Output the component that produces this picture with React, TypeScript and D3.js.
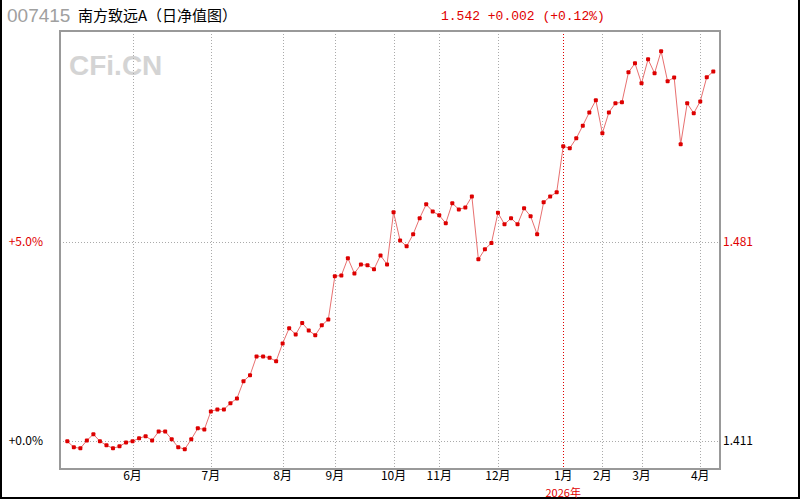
import * as d3 from "d3";
import { useEffect, useRef } from "react";

// 日净值 (NAV), one per plotted point
const navValues: number[] = [
    1.4109, 1.4088, 1.4084, 1.4112, 1.4134, 1.4109, 1.4095, 1.4084, 1.4091, 1.4105,
    1.4109, 1.4120, 1.4127, 1.4112, 1.4144, 1.4144, 1.4116, 1.4088, 1.4081, 1.4116,
    1.4155, 1.4151, 1.4215, 1.4222, 1.4222, 1.4244, 1.4261, 1.4322, 1.4343, 1.4410,
    1.4410, 1.4405, 1.4393, 1.4456, 1.4510, 1.4488, 1.4528, 1.4502, 1.4485, 1.4520,
    1.4541, 1.4694, 1.4697, 1.4758, 1.4704, 1.4736, 1.4733, 1.4719, 1.4768, 1.4736,
    1.4921, 1.4821, 1.4800, 1.4843, 1.4900, 1.4949, 1.4924, 1.4910, 1.4882, 1.4953,
    1.4931, 1.4938, 1.4977, 1.4754, 1.4790, 1.4812, 1.4919, 1.4878, 1.4900, 1.4878,
    1.4935, 1.4907, 1.4843, 1.4956, 1.4977, 1.4992, 1.5155, 1.5148, 1.5183, 1.5228,
    1.5275, 1.5318, 1.5201, 1.5275, 1.5307, 1.5311, 1.5417, 1.5449, 1.5378, 1.5463,
    1.5414, 1.5492, 1.5385, 1.5399, 1.5162, 1.5307, 1.5272, 1.5314, 1.5400, 1.5420,
];

// 月份刻度: label + index of first point in that month
const monthLabels = ["6月", "7月", "8月", "9月", "10月", "11月", "12月", "1月", "2月", "3月", "4月"];
const monthIndex = [10, 22, 33, 41, 50, 57, 66, 76, 82, 88, 97];

const baseNav = 1.411;
const pctTicks = [0, 5];
const pctTickLabels = ["+0.0%", "+5.0%"];
const navTickLabels = ["1.411", "1.481"];

const fundCode = "007415";
const fundName = "南方致远A（日净值图）";
const quoteText = "1.542 +0.002 (+0.12%)";
const yearLabel = "2026年";

const W = 800;
const H = 500;

export default function App() {
    const svgRef = useRef<SVGSVGElement | null>(null);

    useEffect(() => {
        document.body.style.margin = "0";

        const left = 60;
        const right = 720;
        const top = 31;
        const bottom = 469;
        const cjk = "SimSun, 'Noto Sans CJK SC', sans-serif";

        const svg = d3.select(svgRef.current);
        svg.selectAll("*").remove();

        svg.append("rect").attr("width", W).attr("height", H).attr("fill", "#fff");

        // outer frame (left, right, bottom)
        svg.append("path")
            .attr("d", `M1,0 V${H - 2} H${W - 1} V0`)
            .attr("fill", "none")
            .attr("stroke", "#000")
            .attr("stroke-width", 2);

        // scales
        const x = d3.scaleLinear().domain([0, navValues.length - 1]).range([67.3, 713.3]);
        const y = d3.scaleLinear().domain([0, 5]).range([441, 242]);
        const pct = (v: number) => (v / baseNav - 1) * 100;

        // watermark
        svg.append("text")
            .attr("x", 69)
            .attr("y", 75)
            .attr("font-family", "'Liberation Sans', Arial, sans-serif")
            .attr("font-weight", "bold")
            .attr("font-size", 28)
            .attr("fill", "#d4d4d4")
            .text("CFi.CN");

        // vertical month grid
        const grid = svg.append("g");
        monthIndex.forEach((idx, i) => {
            const gx = Math.round(x(idx)) + 0.5;
            grid.append("line")
                .attr("x1", gx)
                .attr("x2", gx)
                .attr("y1", top)
                .attr("y2", bottom)
                .attr("stroke", monthLabels[i] === "1月" ? "#e00000" : "#aaa")
                .attr("stroke-dasharray", "1,2");
            svg.append("text")
                .attr("x", x(idx))
                .attr("y", 480)
                .attr("text-anchor", "middle")
                .attr("font-family", cjk)
                .attr("font-size", 12)
                .attr("fill", "#000")
                .text(monthLabels[i]);
        });

        svg.append("text")
            .attr("x", x(monthIndex[7]))
            .attr("y", 496.5)
            .attr("text-anchor", "middle")
            .attr("font-family", cjk)
            .attr("font-size", 11)
            .attr("fill", "#e00000")
            .text(yearLabel);

        // horizontal grid + labels
        pctTicks.forEach((t, i) => {
            const gy = Math.round(y(t)) + 0.5;
            grid.append("line")
                .attr("x1", left)
                .attr("x2", right)
                .attr("y1", gy)
                .attr("y2", gy)
                .attr("stroke", "#aaa")
                .attr("stroke-dasharray", "1,2");
            const col = t === 0 ? "#000" : "#e00000";
            svg.append("text")
                .attr("x", 43)
                .attr("y", y(t) + 4)
                .attr("text-anchor", "end")
                .attr("font-family", cjk)
                .attr("font-size", 12)
                .attr("fill", col)
                .text(pctTickLabels[i]);
            svg.append("text")
                .attr("x", 723)
                .attr("y", y(t) + 4)
                .attr("font-family", cjk)
                .attr("font-size", 12)
                .attr("fill", col)
                .text(navTickLabels[i]);
        });

        // plot frame
        svg.append("rect")
            .attr("x", left)
            .attr("y", top)
            .attr("width", right - left)
            .attr("height", bottom - top)
            .attr("fill", "none")
            .attr("stroke", "#999")
            .attr("stroke-width", 2);

        // line
        const line = d3
            .line<number>()
            .x((_, i) => x(i))
            .y((d) => y(pct(d)));

        svg.append("path")
            .datum(navValues)
            .attr("d", line)
            .attr("fill", "none")
            .attr("stroke", "#e87070")
            .attr("stroke-width", 1);

        svg.append("g")
            .selectAll("rect")
            .data(navValues)
            .enter()
            .append("rect")
            .attr("x", (_, i) => x(i) - 2)
            .attr("y", (d) => y(pct(d)) - 2)
            .attr("width", 4)
            .attr("height", 4)
            .attr("rx", 1)
            .attr("fill", "#dd0000");

        // title
        svg.append("text")
            .attr("x", 7)
            .attr("y", 22)
            .attr("font-family", "'Liberation Sans', Arial, sans-serif")
            .attr("font-size", 19)
            .attr("fill", "#a0a0a0")
            .text(fundCode);

        svg.append("text")
            .attr("x", 78)
            .attr("y", 21)
            .attr("font-family", cjk)
            .attr("font-size", 15)
            .attr("fill", "#000")
            .text(fundName);

        svg.append("text")
            .attr("x", 441)
            .attr("y", 20)
            .attr("font-family", "'Liberation Mono', monospace")
            .attr("font-size", 13)
            .attr("fill", "#e00000")
            .text(quoteText);
    }, []);

    return <svg ref={svgRef} width={W} height={H} style={{ display: "block" }}></svg>;
}
